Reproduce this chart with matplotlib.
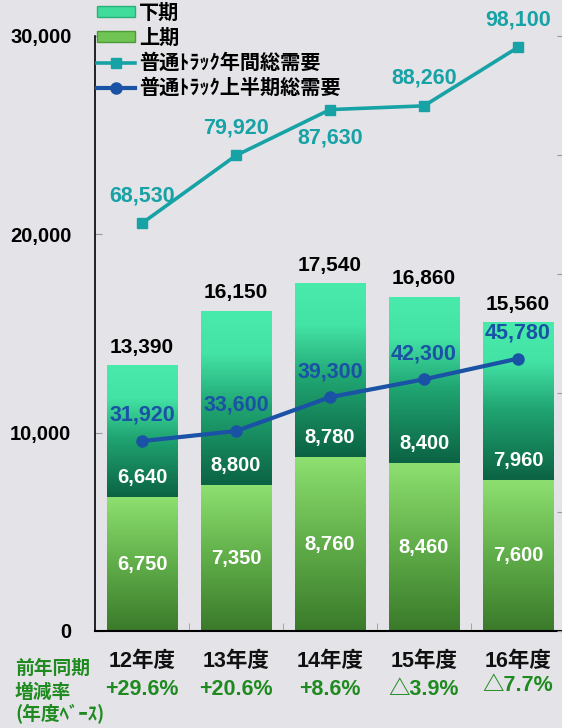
import matplotlib
matplotlib.use("Agg")
import matplotlib.pyplot as plt
import numpy as np
from matplotlib.colors import LinearSegmentedColormap
from matplotlib.patches import Patch
from matplotlib.lines import Line2D

# ==============================================================
# Data
# ==============================================================
years = ["12年度", "13年度", "14年度", "15年度", "16年度"]
first_half = [6750, 7350, 8760, 8460, 7600]      # 上期
second_half = [6640, 8800, 8780, 8400, 7960]     # 下期
totals = [13390, 16150, 17540, 16860, 15560]
annual_demand = [68530, 79920, 87630, 88260, 98100]   # 普通ﾄﾗｯｸ年間総需要
half_demand = [31920, 33600, 39300, 42300, 45780]     # 普通ﾄﾗｯｸ上半期総需要
yoy = ["+29.6%", "+20.6%", "+8.6%", "△3.9%", "△7.7%"]

NUM_FONT = ["Liberation Sans", "Noto Sans CJK JP", "DejaVu Sans"]
JP_FONT = ["Noto Sans CJK JP", "DejaVu Sans"]
plt.rcParams["font.family"] = JP_FONT

TEAL = "#17a2a6"
BLUE = "#1a52a6"
GREEN_TXT = "#1f8a1f"

upper_cmap = LinearSegmentedColormap.from_list(
    "upper", [(0, "#0b6343"), (0.45, "#20a572"), (0.75, "#43e2a5"), (1, "#49ebac")])
lower_cmap = LinearSegmentedColormap.from_list(
    "lower", [(0, "#3a7a2a"), (0.5, "#60ad49"), (1, "#8de070")])


def gradient_fill(ax, patches, cmap):
    """Paint each bar patch with a vertical gradient clipped to the bar"""
    grad = np.linspace(1, 0, 256).reshape(-1, 1)
    for p in patches:
        x0, y0 = p.get_xy()
        w, h = p.get_width(), p.get_height()
        im = ax.imshow(grad, extent=(x0, x0 + w, y0, y0 + h), aspect="auto",
                       cmap=cmap, origin="upper", zorder=p.get_zorder())
        im.set_clip_path(p)


fig = plt.figure(figsize=(5.62, 7.28), dpi=100)
fig.patch.set_facecolor("#e4e4e8")

ax = fig.add_axes([95 / 562, 97 / 728, 470 / 562, 595 / 728])
ax.set_facecolor("none")
x = np.arange(len(years))
width = 0.75

bars_low = ax.bar(x, first_half, width, color="#6cc050", zorder=2)
bars_up = ax.bar(x, second_half, width, bottom=first_half, color="#40dc9c", zorder=2)
gradient_fill(ax, bars_low, lower_cmap)
gradient_fill(ax, bars_up, upper_cmap)

ax.set_xlim(-0.5, 4.5)
ax.set_ylim(0, 30000)
ax.set_yticks([0, 10000, 20000, 30000])
ax.set_yticklabels([f"{v:,}" for v in [0, 10000, 20000, 30000]],
                   fontsize=14.5, fontweight="bold", family=NUM_FONT)
ax.set_xticks([])
ax.set_xticks(np.arange(0.5, 4.5, 1), minor=True)
ax.tick_params(axis="x", which="minor", direction="in", length=6, color="#999999")
ax.tick_params(axis="y", direction="in", length=5, color="#999999", pad=17)
for s in ["top", "right"]:
    ax.spines[s].set_visible(False)
ax.spines["left"].set_linewidth(1.2)
ax.spines["bottom"].set_linewidth(1.5)

# bar labels
for i in range(len(years)):
    ax.text(x[i], totals[i] + 900, f"{totals[i]:,}", ha="center", va="center",
            fontsize=15, fontweight="bold", family=NUM_FONT, color="black", zorder=5)
    ax.text(x[i], first_half[i] / 2, f"{first_half[i]:,}", ha="center", va="center",
            fontsize=14.5, fontweight="bold", family=NUM_FONT, color="white", zorder=5)
    ax.text(x[i], first_half[i] + 1000, f"{second_half[i]:,}", ha="center", va="center",
            fontsize=14.5, fontweight="bold", family=NUM_FONT, color="white", zorder=5)

# category labels and yoy rates
xt = ax.get_xaxis_transform()
for i in range(len(years)):
    ax.text(x[i], -0.052, years[i], transform=xt, ha="center", va="center",
            fontsize=15.5, fontweight="bold", family=NUM_FONT, color="#111111")
    ax.text(x[i], -0.099 if i < 4 else -0.092, yoy[i], transform=xt, ha="center",
            va="center", fontsize=15.5, fontweight="bold", family=NUM_FONT, color=GREEN_TXT)
for txt, ypix in [("前年同期", 668), ("増減率", 692), ("(年度ﾍﾞｰｽ)", 714)]:
    fig.text(15 / 562, 1 - ypix / 728, txt, ha="left", va="center", fontsize=13.5,
             fontweight="bold", color=GREEN_TXT)

# secondary axis for demand lines
ax2 = ax.twinx()
ax2.set_ylim(0, 100000)
ax2.set_yticks(np.arange(0, 100001, 20000))
ax2.set_yticklabels([])
ax2.tick_params(axis="y", direction="in", length=6, color="#999999")
for s in ["top", "left", "right", "bottom"]:
    ax2.spines[s].set_visible(False)

ax2.plot(x, annual_demand, color=TEAL, lw=2.6, marker="s", markersize=7, zorder=4)
ax2.plot(x, half_demand, color=BLUE, lw=3, marker="o", markersize=8, zorder=4)
for i in range(len(years)):
    dy = -4700 if i == 2 else 4600
    ax2.text(x[i], annual_demand[i] + dy, f"{annual_demand[i]:,}", ha="center", va="center",
             fontsize=15.5, fontweight="bold", family=NUM_FONT, color=TEAL)
    ax2.text(x[i], half_demand[i] + 4300, f"{half_demand[i]:,}", ha="center", va="center",
             fontsize=15.5, fontweight="bold", family=NUM_FONT, color=BLUE)

handles = [
    Patch(facecolor="#40dc9c", edgecolor="#2bb07a"),
    Patch(facecolor="#70c454", edgecolor="#4c9a38"),
    Line2D([], [], color=TEAL, lw=2.6, marker="s", markersize=7),
    Line2D([], [], color=BLUE, lw=3, marker="o", markersize=8),
]
labels = ["下期", "上期", "普通ﾄﾗｯｸ年間総需要", "普通ﾄﾗｯｸ上半期総需要"]
fig.legend(handles, labels, loc="upper left", bbox_to_anchor=(97 / 562, 1 - 2 / 728),
           frameon=False, prop={"family": JP_FONT, "weight": "bold", "size": 14.5},
           handlelength=1.9, handleheight=0.45, handletextpad=0.2, labelspacing=0.2,
           borderpad=0, borderaxespad=0)

fig.savefig("out.png", dpi=100, facecolor=fig.get_facecolor())
